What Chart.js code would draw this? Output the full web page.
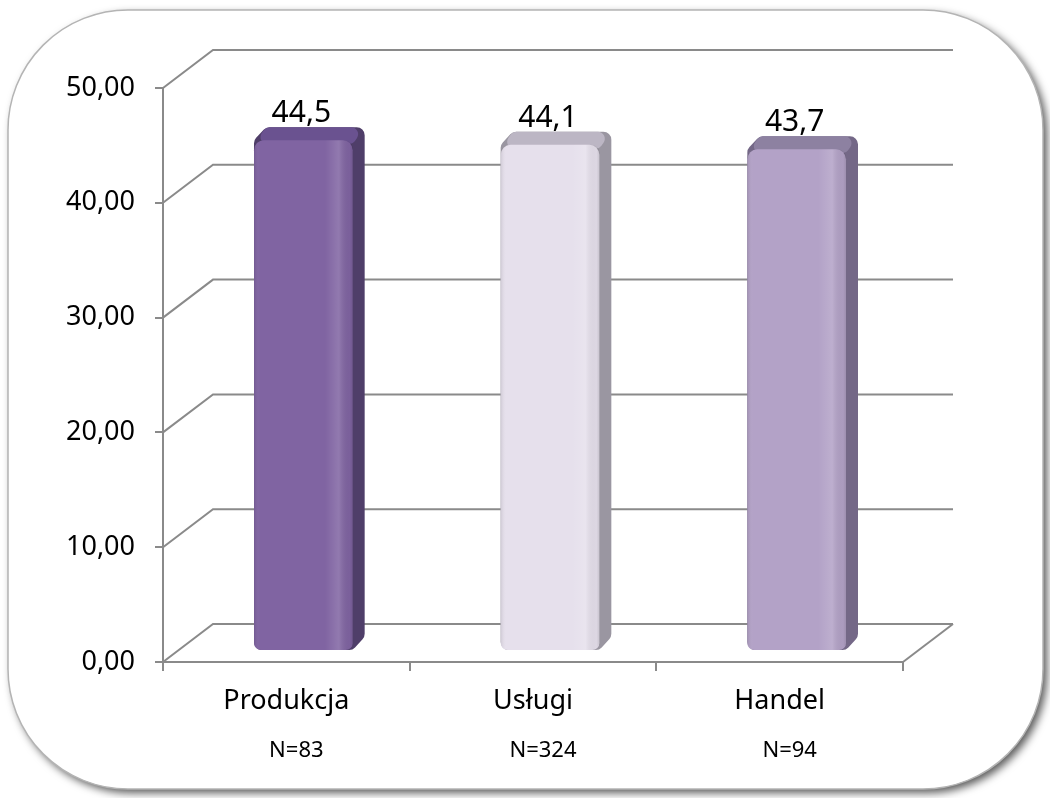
<!DOCTYPE html>
<html>
<head>
<meta charset="utf-8">
<script src="https://cdn.jsdelivr.net/npm/chart.js@4.4.1/dist/chart.umd.min.js"></script>
<style>
html, body { margin: 0; padding: 0; background: #fff; }
canvas { display: block; }
</style>
</head>
<body>
<canvas id="myChart" width="1050" height="798"></canvas>
<script>
// data
var categories = ['Produkcja', 'Usługi', 'Handel'];
var sampleSizes = ['N=83', 'N=324', 'N=94'];
var values = [44.5, 44.1, 43.7];
var valueLabels = ['44,5', '44,1', '43,7'];
var yMin = 0, yMax = 50, yStep = 10;

// colours
var frontColors = ['#8064A2', '#E6E0EC', '#B3A2C7'];
var sideColors = ['#4F3E69', '#9A96A1', '#746887'];
var topColors = ['#6A5290', '#BCB6C4', '#8D81A1'];
var gridColor = '#8a8a8a';
var fontName = '"Noto Sans", "DejaVu Sans", sans-serif';

// 3d look
var wallDx = 50, wallDy = -38;   // back wall offset
var barDx = 17, barDy = -11;     // bars sit a bit inside the floor
var depthDx = 12, depthDy = -13; // bar depth

function roundPoly(ctx, pts, r) {
    var n = pts.length;
    ctx.beginPath();
    var sx = (pts[n - 1][0] + pts[0][0]) / 2, sy = (pts[n - 1][1] + pts[0][1]) / 2;
    ctx.moveTo(sx, sy);
    for (var i = 0; i < n; i++) {
        var p = pts[i], q = pts[(i + 1) % n];
        ctx.arcTo(p[0], p[1], q[0], q[1], r);
    }
    ctx.closePath();
}

var box3d = {
    id: 'box3d',
    beforeDraw: function(chart) {
        var ctx = chart.ctx;
        var x0 = 8, y0 = 10, x1 = 1043, y1 = 789, r = 120;
        var pts = [[x0, y0], [x1, y0], [x1, y1], [x0, y1]];
        ctx.save();
        ctx.shadowColor = 'rgba(0,0,0,0.65)';
        ctx.shadowBlur = 8;
        ctx.shadowOffsetX = 4;
        ctx.shadowOffsetY = 4;
        roundPoly(ctx, pts, r);
        ctx.fillStyle = '#fff';
        ctx.fill();
        ctx.restore();
        ctx.save();
        roundPoly(ctx, pts, r);
        ctx.strokeStyle = '#b4b4b4';
        ctx.lineWidth = 1.5;
        ctx.stroke();
        ctx.restore();
    },
    beforeDatasetsDraw: function(chart) {
        var ctx = chart.ctx, a = chart.chartArea, ys = chart.scales.y;
        ctx.save();
        ctx.strokeStyle = gridColor;
        ctx.lineWidth = 2;
        ys.ticks.forEach(function(t) {
            var py = ys.getPixelForValue(t.value);
            ctx.beginPath();
            ctx.moveTo(a.left, py);
            ctx.lineTo(a.left + wallDx, py + wallDy);
            ctx.lineTo(a.right + wallDx, py + wallDy);
            ctx.stroke();
        });
        ctx.beginPath();
        ctx.moveTo(a.right, a.bottom);
        ctx.lineTo(a.right + wallDx, a.bottom + wallDy);
        ctx.stroke();
        ctx.restore();

        // bar sides and tops, then shift for the front faces
        ctx.save();
        ctx.translate(barDx, barDy);
        var meta = chart.getDatasetMeta(0);
        meta.data.forEach(function(bar, i) {
            var l = bar.x - bar.width / 2, r = bar.x + bar.width / 2, t = bar.y, b = bar.base;
            ctx.fillStyle = sideColors[i];
            roundPoly(ctx, [[l, t], [l + depthDx, t + depthDy], [r + depthDx, t + depthDy],
                [r + depthDx, b + depthDy], [r, b], [l, b]], 8);
            ctx.fill();
            ctx.fillStyle = topColors[i];
            roundPoly(ctx, [[l, t + 4], [l + depthDx, t + depthDy], [r + depthDx, t + depthDy], [r, t + 4]], 7);
            ctx.fill();
        });
    },
    afterDatasetsDraw: function(chart) {
        var ctx = chart.ctx;
        var meta = chart.getDatasetMeta(0);
        meta.data.forEach(function(bar, i) {
            var l = bar.x - bar.width / 2, w = bar.width, t = bar.y, b = bar.base;
            var g = ctx.createLinearGradient(l, 0, l + w, 0);
            g.addColorStop(0, 'rgba(0,0,0,0.10)');
            g.addColorStop(0.06, 'rgba(255,255,255,0)');
            g.addColorStop(0.72, 'rgba(255,255,255,0)');
            g.addColorStop(0.86, 'rgba(255,255,255,0.14)');
            g.addColorStop(0.97, 'rgba(0,0,0,0.04)');
            g.addColorStop(1, 'rgba(0,0,0,0.12)');
            ctx.fillStyle = g;
            roundPoly(ctx, [[l, t], [l + w, t], [l + w, b], [l, b]], 8);
            ctx.fill();

            ctx.fillStyle = '#000';
            ctx.font = '30px ' + fontName;
            ctx.textAlign = 'center';
            ctx.textBaseline = 'alphabetic';
            ctx.fillText(valueLabels[i], bar.x - 2, t - 18);
        });
        ctx.restore();
    },
    afterDraw: function(chart) {
        var ctx = chart.ctx, xs = chart.scales.x;
        ctx.save();
        ctx.fillStyle = '#000';
        ctx.font = '22px ' + fontName;
        ctx.textAlign = 'center';
        ctx.textBaseline = 'alphabetic';
        sampleSizes.forEach(function(s, i) {
            ctx.fillText(s, xs.getPixelForValue(i) + 10, 757);
        });
        ctx.restore();
    }
};

var ctx = document.getElementById('myChart').getContext('2d');
var myChart = new Chart(ctx, {
    type: 'bar',
    data: {
        labels: categories,
        datasets: [{
            data: values,
            backgroundColor: frontColors,
            borderWidth: 0,
            borderRadius: { topLeft: 10, topRight: 10, bottomLeft: 7, bottomRight: 7 },
            borderSkipped: false,
            barPercentage: 0.4,
            categoryPercentage: 1
        }]
    },
    options: {
        responsive: false,
        animation: false,
        events: [],
        layout: { padding: { left: 0, right: 147, top: 88, bottom: 0 } },
        plugins: {
            legend: { display: false },
            tooltip: { enabled: false }
        },
        scales: {
            x: {
                afterFit: function(scale) { scale.height = 136; },
                grid: { drawOnChartArea: false, drawTicks: true, tickLength: 9, color: gridColor, lineWidth: 2 },
                border: { display: true, color: gridColor, width: 2 },
                ticks: { color: '#000', font: { family: fontName, size: 27 }, padding: 14 }
            },
            y: {
                min: yMin,
                max: yMax,
                afterFit: function(scale) { scale.width = 163; },
                grid: { drawOnChartArea: false, drawTicks: true, tickLength: 8, color: gridColor, lineWidth: 2 },
                border: { display: true, color: gridColor, width: 2 },
                ticks: {
                    stepSize: yStep,
                    color: '#000',
                    padding: 20,
                    font: { family: fontName, size: 27 },
                    callback: function(v) { return v.toFixed(2).replace('.', ','); }
                }
            }
        }
    },
    plugins: [box3d]
});
</script>
</body>
</html>
